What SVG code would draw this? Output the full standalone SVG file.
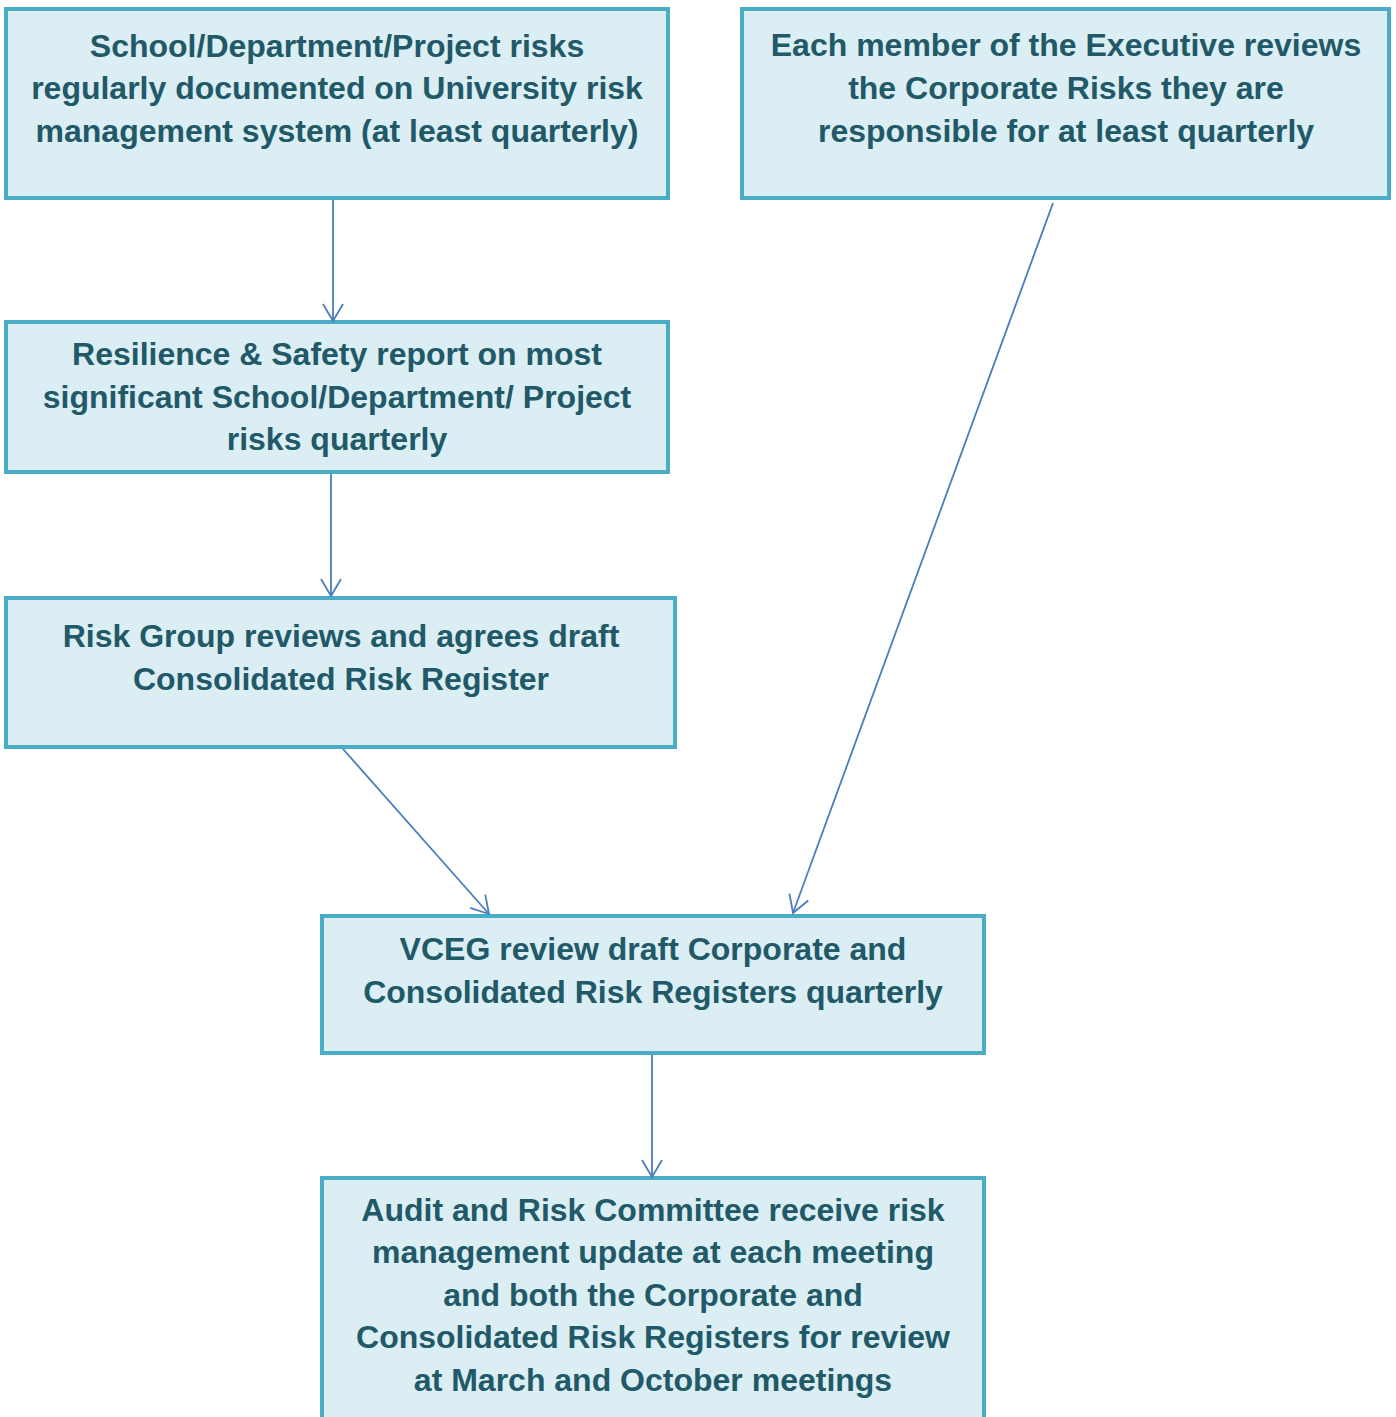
<svg xmlns="http://www.w3.org/2000/svg" width="1396" height="1417" viewBox="0 0 1396 1417">
<style>
.box{fill:#daeef3;stroke:#4bacc6;stroke-width:4}
.t{font-family:"Liberation Sans",Arial,sans-serif;font-weight:bold;font-size:32px;fill:#215968;text-anchor:middle}
.c{stroke:#4a7ebb;stroke-width:1.8;fill:none}
</style>
<defs>
<marker id="a" viewBox="0 0 24 24" refX="20" refY="12" markerWidth="24" markerHeight="24" markerUnits="userSpaceOnUse" orient="auto">
<path d="M3,2 L20,12 L3,22" fill="none" stroke="#4a7ebb" stroke-width="1.8"/>
</marker>
</defs>
<rect width="1396" height="1417" fill="#ffffff"/>
<g id="n1"><rect class="box" x="6" y="9" width="662" height="189"/>
<text class="t" x="337" y="57">School/Department/Project risks</text>
<text class="t" x="337" y="99">regularly documented on University risk</text>
<text class="t" x="337" y="142">management system (at least quarterly)</text></g>
<g id="n2"><rect class="box" x="742" y="9" width="647" height="189"/>
<text class="t" x="1066" y="56">Each member of the Executive reviews</text>
<text class="t" x="1066" y="99">the Corporate Risks they are</text>
<text class="t" x="1066" y="142">responsible for at least quarterly</text></g>
<g id="n3"><rect class="box" x="6" y="322" width="662" height="150"/>
<text class="t" x="337" y="365">Resilience &amp; Safety report on most</text>
<text class="t" x="337" y="408">significant School/Department/ Project</text>
<text class="t" x="337" y="450">risks quarterly</text></g>
<g id="n4"><rect class="box" x="6" y="598" width="669" height="149"/>
<text class="t" x="341" y="647">Risk Group reviews and agrees draft</text>
<text class="t" x="341" y="690">Consolidated Risk Register</text></g>
<g id="n5"><rect class="box" x="322" y="916" width="662" height="137"/>
<text class="t" x="653" y="960">VCEG review draft Corporate and</text>
<text class="t" x="653" y="1003">Consolidated Risk Registers quarterly</text></g>
<g id="n6"><rect class="box" x="322" y="1178" width="662" height="245"/>
<text class="t" x="653" y="1221">Audit and Risk Committee receive risk</text>
<text class="t" x="653" y="1263">management update at each meeting</text>
<text class="t" x="653" y="1306">and both the Corporate and</text>
<text class="t" x="653" y="1348">Consolidated Risk Registers for review</text>
<text class="t" x="653" y="1391">at March and October meetings</text></g>
<g id="connectors">
<line class="c" x1="333" y1="200" x2="333" y2="321" marker-end="url(#a)"/>
<line class="c" x1="331" y1="474" x2="331" y2="596" marker-end="url(#a)"/>
<line class="c" x1="343" y1="749" x2="489" y2="914" marker-end="url(#a)"/>
<line class="c" x1="1053" y1="203" x2="793" y2="913" marker-end="url(#a)"/>
<line class="c" x1="652" y1="1055" x2="652" y2="1177" marker-end="url(#a)"/>
</g>
</svg>
